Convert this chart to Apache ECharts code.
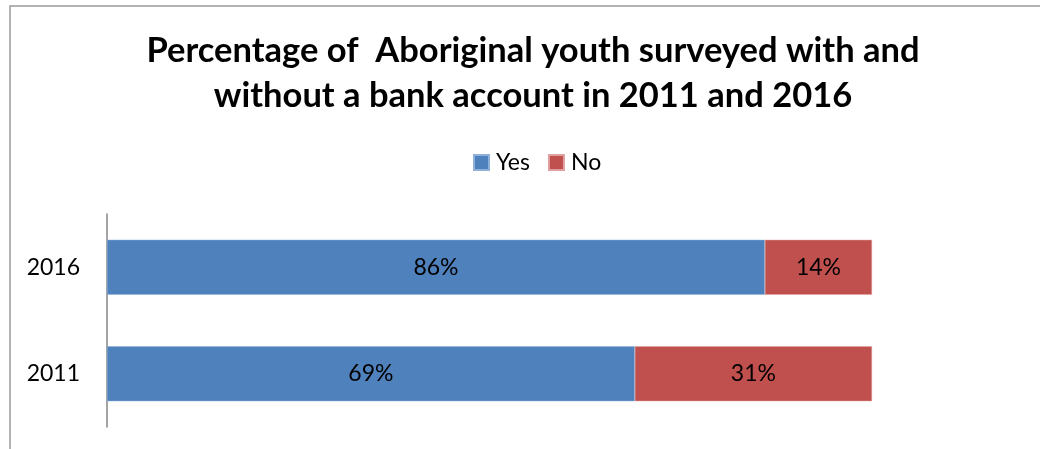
<!DOCTYPE html>
<html>
<head>
<meta charset="utf-8">
<script src="https://cdn.jsdelivr.net/npm/echarts@6/dist/echarts.min.js"></script>
<style>
  html, body { margin: 0; padding: 0; background: #fff; }
  #chart { width: 1040px; height: 449px; }
</style>
</head>
<body>
<div id="chart"></div>
<script>
// Survey years (bottom to top on the category axis)
const years = ['2011', '2016'];
// Share of youth with a bank account, percent
const yesValues = [69, 86];
// Share of youth without a bank account, percent
const noValues = [31, 14];
const seriesNames = ['Yes', 'No'];

const FONT = 'Lato, "Open Sans", sans-serif';

const chart = echarts.init(document.getElementById('chart'), null, { renderer: 'canvas' });

const labelStyle = {
  show: true,
  position: 'inside',
  color: '#000',
  fontFamily: FONT,
  fontSize: 23,
  formatter: p => p.value + '%'
};

chart.setOption({
  animation: false,
  backgroundColor: '#fff',
  graphic: [{
    type: 'rect',
    shape: { x: 10, y: 6, width: 1200, height: 600 },
    style: { fill: 'none', stroke: '#9a9a9a', lineWidth: 1.5 },
    silent: true
  }],
  title: {
    text: 'Percentage of  Aboriginal youth surveyed with and\nwithout a bank account in 2011 and 2016',
    left: 528,
    textAlign: 'center',
    top: 23,
    textStyle: {
      fontFamily: FONT,
      fontWeight: 'bold',
      fontSize: 34.5,
      lineHeight: 45,
      color: '#000'
    }
  },
  legend: {
    data: seriesNames,
    top: 146,
    left: 468,
    itemWidth: 15,
    itemHeight: 15,
    itemGap: 18,
    icon: 'rect',
    textStyle: { fontFamily: FONT, fontSize: 23, color: '#000', padding: [0, 0, 0, 2] }
  },
  grid: { left: 107, right: 168, top: 214, bottom: 22, containLabel: false },
  xAxis: {
    type: 'value',
    min: 0,
    max: 100,
    show: false
  },
  yAxis: {
    type: 'category',
    data: years,
    axisLine: { show: true, lineStyle: { color: '#868686', width: 1.5 } },
    axisTick: { show: false },
    axisLabel: { fontFamily: FONT, fontSize: 23, color: '#000', margin: 27 }
  },
  series: [
    {
      name: seriesNames[0],
      type: 'bar',
      stack: 'total',
      data: yesValues,
      barWidth: 55,
      itemStyle: { color: '#4F81BD', borderColor: '#8fb0d9', borderWidth: 0.5 },
      label: labelStyle
    },
    {
      name: seriesNames[1],
      type: 'bar',
      stack: 'total',
      data: noValues,
      barWidth: 55,
      itemStyle: { color: '#C0504D', borderColor: '#e0a0a0', borderWidth: 0.5 },
      label: labelStyle
    }
  ]
});
</script>
</body>
</html>
